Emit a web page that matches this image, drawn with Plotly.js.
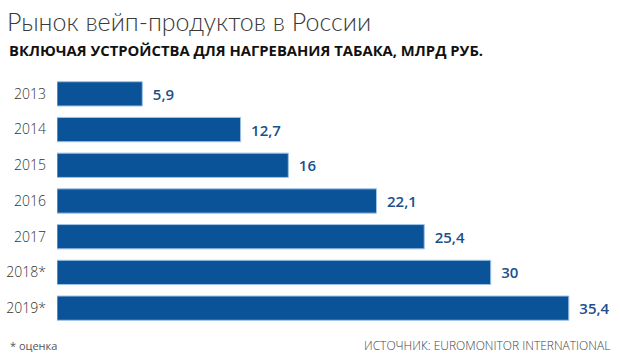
<!DOCTYPE html>
<html><head><meta charset="utf-8">
<script src="https://cdn.plot.ly/plotly-3.0.1.min.js"></script>
<style>html,body{margin:0;padding:0;background:#fff}#c{width:620px;height:360px}</style>
</head><body><div id="c"></div>
<script>
var years = ["2013", "2014", "2015", "2016", "2017", "2018*", "2019*"];
var values = [5.9, 12.7, 16, 22.1, 25.4, 30, 35.4];
var title = "Рынок вейп-продуктов в России";
var subtitle = "ВКЛЮЧАЯ УСТРОЙСТВА ДЛЯ НАГРЕВАНИЯ ТАБАКА, МЛРД РУБ.";
var footnote = "* оценка";
var source = "ИСТОЧНИК: EUROMONITOR INTERNATIONAL";

var labels = values.map(function(v){ return "\u2002" + String(v).replace(".", ","); });

var W = 620, H = 360, L = 57, R = 10, T = 76, B = 34;
function px(x){ return (x - L) / (W - L - R); }
function py(y){ return (H - B - y) / (H - T - B); }

Plotly.newPlot("c", [{
  type: "bar", orientation: "h",
  y: years, x: values,
  text: labels, textposition: "outside", cliponaxis: false,
  textfont: {family: "Open Sans", size: 15, color: "#1c4f8a", weight: 600},
  marker: {color: "#0b5398", line: {color: "#9fc3e6", width: 1}},
  hoverinfo: "none"
}], {
  width: W, height: H,
  margin: {l: L, r: R, t: T, b: B, pad: 0},
  paper_bgcolor: "#fff", plot_bgcolor: "#fff",
  bargap: 0.32,
  showlegend: false,
  title: {text: title, xref: "container", yref: "container", x: 7/W, xanchor: "left",
          y: 1 - 22/H, yanchor: "middle",
          font: {family: "Lato", size: 25, color: "#3a3a3a", weight: 300}},
  xaxis: {range: [0, 38.25], visible: false, fixedrange: true},
  yaxis: {type: "category", autorange: "reversed", showgrid: false, zeroline: false, showline: false,
          ticks: "", ticklabelstandoff: 10,
          tickfont: {family: "Open Sans", size: 14, color: "#333", weight: 300}},
  annotations: [
    {text: "<b>" + subtitle + "</b>", xref: "paper", yref: "paper", x: px(7), y: py(50),
     xanchor: "left", yanchor: "middle", showarrow: false,
     font: {family: "Open Sans", size: 14.8, color: "#111"}},
    {text: footnote, xref: "paper", yref: "paper", x: px(8), y: py(345),
     xanchor: "left", yanchor: "middle", showarrow: false,
     font: {family: "Open Sans", size: 11, color: "#555"}},
    {text: source, xref: "paper", yref: "paper", x: px(612), y: py(345),
     xanchor: "right", yanchor: "middle", showarrow: false,
     font: {family: "Open Sans", size: 12, color: "#444", weight: 300}}
  ]
}, {displayModeBar: false, staticPlot: true});
</script></body></html>
